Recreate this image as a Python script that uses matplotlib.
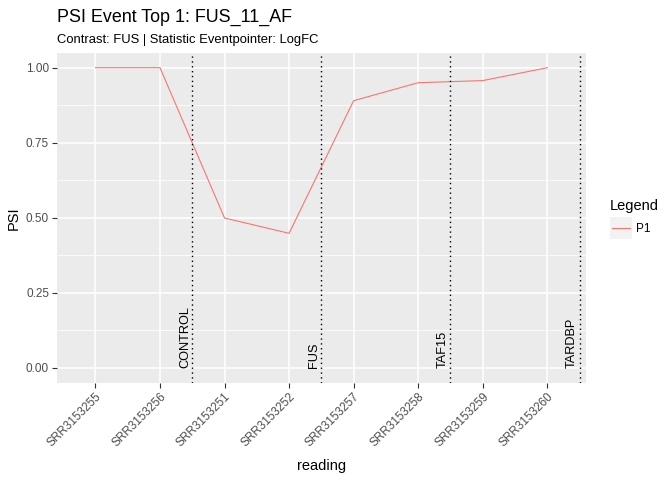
import matplotlib
matplotlib.use("Agg")
import matplotlib.pyplot as plt
import numpy as np
from matplotlib.patches import Rectangle
from matplotlib.lines import Line2D

plt.rcParams['font.family'] = ['Liberation Sans', 'DejaVu Sans']

# data
readings = ['SRR3153255', 'SRR3153256', 'SRR3153251', 'SRR3153252',
            'SRR3153257', 'SRR3153258', 'SRR3153259', 'SRR3153260']
psi = [1.0, 1.0, 0.499, 0.448, 0.890, 0.950, 0.957, 1.0]
group_names = ['CONTROL', 'FUS', 'TAF15', 'TARDBP']
group_breaks = [2.5, 4.5, 6.5, 8.5]

line_col = '#F8766D'
txt_col = '#4D4D4D'

fig = plt.figure(figsize=(6.72, 4.8), dpi=100)
ax = fig.add_axes([56.7 / 672, 1 - 382.7 / 480, (586 - 56.7) / 672, (382.7 - 52.7) / 480])
ax.set_facecolor('#EBEBEB')

x = np.arange(1, len(readings) + 1)
ax.plot(x, psi, color=line_col, lw=0.8, zorder=3)

for xb, name in zip(group_breaks, group_names):
    ax.axvline(xb, color='black', ls=(0, (1, 2.5)), lw=1.0, zorder=4)
    ax.text(xb - 0.02, 0, name, rotation=90, ha='right', va='bottom',
            fontsize=9.2, color='black', zorder=5)

ax.set_xlim(0.4, 8.6)
ax.set_ylim(-0.05, 1.05)
ax.set_xticks(x)
ax.set_xticklabels(readings, rotation=45, ha='right', va='top',
                   rotation_mode='anchor', fontsize=8.5, color=txt_col)
yt = [0, 0.25, 0.5, 0.75, 1.0]
ax.set_yticks(yt)
ax.set_yticklabels(['0.00', '0.25', '0.50', '0.75', '1.00'], fontsize=8.5, color=txt_col)
ax.set_yticks([0.125, 0.375, 0.625, 0.875], minor=True)
ax.tick_params(axis='both', which='major', length=3.5, width=0.8, color='#333333', pad=2)
ax.tick_params(axis='y', which='minor', length=0)
ax.grid(which='major', color='white', lw=1.1)
ax.grid(which='minor', axis='y', color='white', lw=0.55)
ax.set_axisbelow(True)
for s in ax.spines.values():
    s.set_visible(False)

ax.set_xlabel('reading', fontsize=10.5, labelpad=7)
ax.set_ylabel('PSI', fontsize=10.5, labelpad=4)

fig.text(56.7 / 672, 1 - 22 / 480, 'PSI Event Top 1: FUS_11_AF', fontsize=12.9,
         ha='left', va='baseline')
fig.text(56.7 / 672, 1 - 43 / 480, 'Contrast: FUS | Statistic Eventpointer: LogFC',
         fontsize=9.4, ha='left', va='baseline')

# legend drawn ggplot-style
fig.text(610 / 672, 1 - 206 / 480, 'Legend', fontsize=10.5, ha='left', va='center')
fig.patches.append(Rectangle((610 / 672, 1 - 239 / 480), 22 / 672, 22 / 480,
                             transform=fig.transFigure, facecolor='#F2F2F2',
                             edgecolor='none'))
fig.lines.append(Line2D([612 / 672, 630 / 672], [1 - 228 / 480, 1 - 228 / 480],
                        transform=fig.transFigure, color=line_col, lw=0.8))
fig.text(636 / 672, 1 - 228.5 / 480, 'P1', fontsize=8.5, ha='left', va='center')

fig.savefig('out.png', dpi=100)
